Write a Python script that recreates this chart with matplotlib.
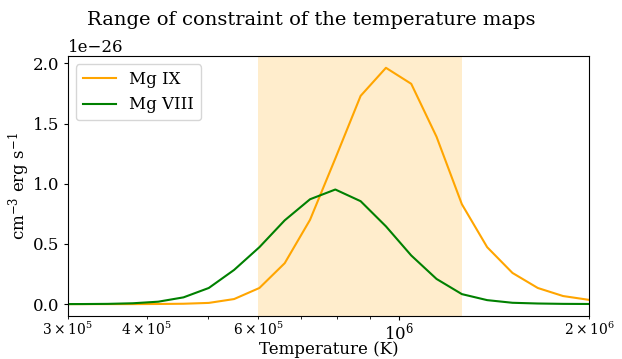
import numpy as np
import matplotlib
matplotlib.use('Agg')
import matplotlib.pyplot as plt

plt.rcParams['font.family'] = 'DejaVu Serif'
plt.rcParams['mathtext.fontset'] = 'dejavuserif'

# log10(T) grid
logt = [5.46, 5.50, 5.54, 5.58, 5.62, 5.66, 5.70, 5.74, 5.78, 5.82, 5.86,
        5.90, 5.94, 5.98, 6.02, 6.06, 6.10, 6.14, 6.18, 6.22, 6.26, 6.30]

# contribution functions in units of 1e-26
mg9 = [0.0, 0.0, 0.0, 0.0, 0.001, 0.003, 0.010, 0.042, 0.134, 0.340, 0.700,
       1.210, 1.730, 1.963, 1.830, 1.390, 0.830, 0.473, 0.259, 0.134, 0.067, 0.036]
mg8 = [0.0, 0.0005, 0.002, 0.007, 0.020, 0.056, 0.134, 0.284, 0.473, 0.696, 0.871,
       0.952, 0.855, 0.646, 0.404, 0.209, 0.083, 0.033, 0.011, 0.005, 0.002, 0.001]

t_range = (6e5, 10**6.1)

temp = 10**np.array(logt)

fig = plt.figure(figsize=(6.22, 3.59), dpi=100)
ax = fig.add_axes([0.109, 0.12, 0.838, 0.724])

ax.axvspan(t_range[0], t_range[1], color='orange', alpha=0.2, lw=0)
ax.plot(temp, np.array(mg9) * 1e-26, color='orange', label='Mg IX')
ax.plot(temp, np.array(mg8) * 1e-26, color='green', label='Mg VIII')

ax.set_xscale('log')
ax.set_xlim(3e5, 2e6)
ax.tick_params(which='major', length=2.8, labelsize=12)
ax.tick_params(which='minor', length=1.8)
ax.tick_params(axis='x', which='both', pad=1.5)
ax.tick_params(axis='y', pad=3)
ax.yaxis.get_offset_text().set_fontsize(12)
ax.set_xlabel('Temperature (K)', fontsize=12)
ax.set_ylabel('cm$^{-3}$ erg s$^{-1}$', fontsize=12)
ax.xaxis.set_label_coords(0.5, -0.098)
ax.yaxis.set_label_coords(-0.068, 0.5)
ax.legend(loc='upper left', fontsize=12)
fig.suptitle('Range of constraint of the temperature maps', fontsize=14, y=0.97)

fig.savefig('out.png', dpi=100)
